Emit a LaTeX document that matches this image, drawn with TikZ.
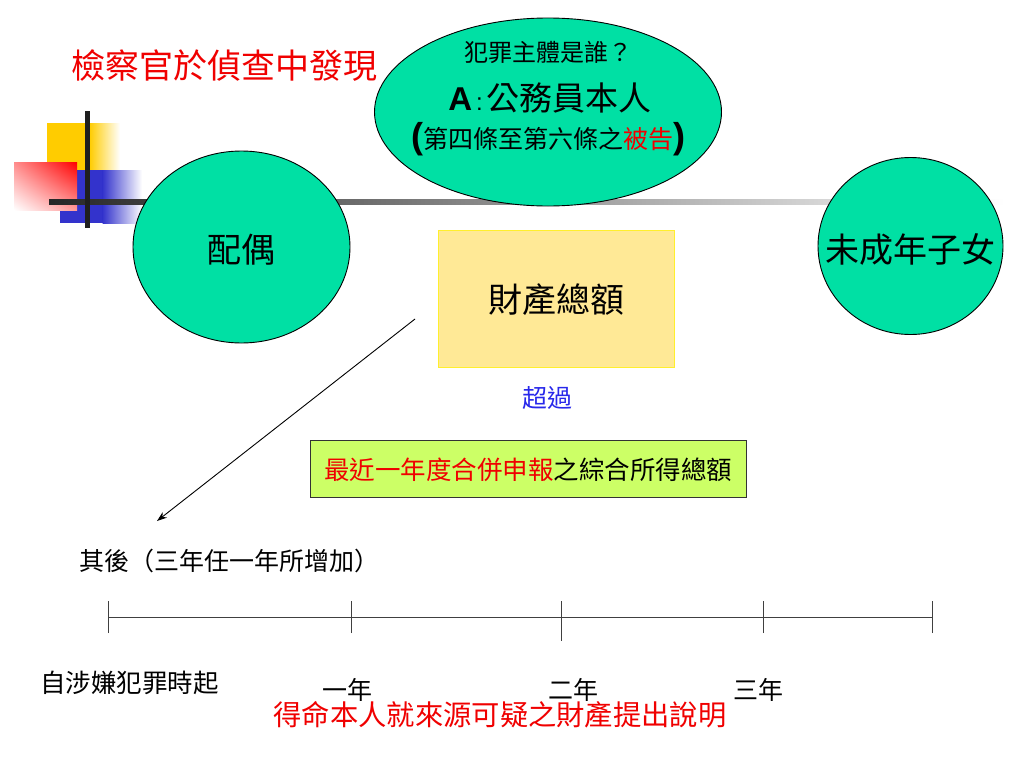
\documentclass[tikz,border=0pt]{standalone}
\usepackage{fontspec}
\setmainfont{Noto Sans CJK TC}
\newfontfamily\latin{Liberation Sans}
\usetikzlibrary{shapes.geometric,arrows.meta,shadings}
\definecolor{teal1}{RGB}{0,224,164}
\definecolor{boxyellow}{RGB}{255,233,150}
\definecolor{boxgreen}{RGB}{204,255,102}
\definecolor{myred}{RGB}{240,0,0}
\definecolor{myblue}{RGB}{40,40,235}
\definecolor{decoyellow}{RGB}{255,204,0}
\definecolor{decoblue}{RGB}{51,51,204}
\tikzset{
  oval/.style={ellipse, draw=black, line width=0.9pt, fill=teal1, inner sep=0pt},
  txt/.style={inner sep=0pt, font=\fontsize{#1}{#1}\selectfont},
  txt/.default=25
}
\begin{document}
\begin{tikzpicture}[x=1pt,y=-1pt]
\useasboundingbox (0,0) rectangle (1024,768);
\fill[white] (0,0) rectangle (1024,768);
% decoration
\fill[decoyellow] (47,123) rectangle (90,170);
\shade[left color=decoyellow, right color=white] (89.5,123) rectangle (120,170);
\fill[decoblue] (60,170) rectangle (103,223);
\shade[left color=decoblue, right color=white] (102.5,170) rectangle (142,223);
\shade[upper left=red!45, upper right=red, lower left=white, lower right=red!40] (14,162) rectangle (77,210);
\shade[left color=black!85, right color=white] (49,199.5) rectangle (1005,204);
\fill[black!88] (85,111) rectangle (89.5,228);
% title
\node[txt=34, text=myred] (title) at (224,66) {檢察官於偵查中發現};
% ovals
\node[oval, minimum width=347pt, minimum height=188pt] (who) at (548,112) {};
\node[txt=24] (q) at (548,52) {犯罪主體是誰？};
\node[txt=33] (a) at (550,98) {{\latin\bfseries A}{\latin\fontsize{24}{24}\selectfont\,:\,}公務員本人};
\node[txt=25] (law) at (548,139) {{\latin\bfseries\fontsize{36}{36}\selectfont (}第四條至第六條之\textcolor{myred}{被告}{\latin\bfseries\fontsize{36}{36}\selectfont )}};
\node[oval, minimum width=217pt, minimum height=192pt] (sp) at (241.5,247) {};
\node[txt=34] (spt) at (241.5,250) {配偶};
\node[oval, minimum width=185pt, minimum height=177pt] (ch) at (910.5,246) {};
\node[txt=34] (cht) at (910,250) {未成年子女};
% boxes
\node[draw=yellow!70!boxyellow, fill=boxyellow, minimum width=236pt, minimum height=137pt, inner sep=0pt] (asset) at (556,298.5) {};
\node[txt=34] (assett) at (556,300) {財產總額};
\node[txt=25, text=myblue] (over) at (547,398) {超過};
\node[draw=black!80, line width=0.9pt, fill=boxgreen, minimum width=436pt, minimum height=57pt, inner sep=0pt] (inc) at (528,468.5) {};
\node[txt=25.5] (inct) at (528,470) {\textcolor{myred}{最近一年度合併申報}之綜合所得總額};
% arrow
\coordinate (a1) at (415,319);
\coordinate (a2) at (157,521);
\draw[line width=0.9pt, -{Stealth[length=10pt,width=7pt]}] (a1) -- (a2);
\node[txt=25, anchor=west] (after) at (79,561) {其後（三年任一年所增加）};
% timeline
\coordinate (t0) at (108,617);
\coordinate (t1) at (351,617);
\coordinate (t2) at (561,617);
\coordinate (t3) at (763,617);
\coordinate (t4) at (932,617);
\draw[line width=0.9pt, black!75] (t0) -- (t4);
\foreach \t in {t0,t1,t3,t4} \draw[line width=0.9pt, black!75] ([yshift=-16pt]\t) -- ([yshift=16pt]\t);
\draw[line width=0.9pt, black!75] ([yshift=16pt]t2) -- ([yshift=-24pt]t2);
\node[txt=25.5, anchor=west] (start) at (40,683) {自涉嫌犯罪時起};
\node[txt=25] (y1) at (347,690) {一年};
\node[txt=25] (y2) at (573,690) {二年};
\node[txt=25] (y3) at (758,690) {三年};
\node[txt=28.3, text=myred] (expl) at (500,715) {得命本人就來源可疑之財產提出說明};
\end{tikzpicture}
\end{document}
